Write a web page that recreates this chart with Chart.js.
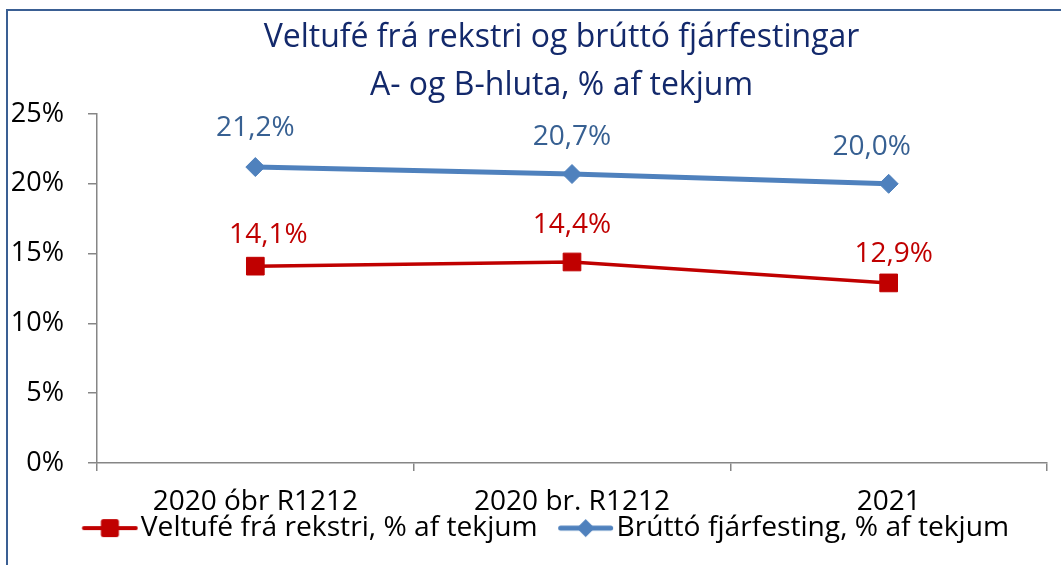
<!DOCTYPE html>
<html>
<head>
<meta charset="utf-8">
<script src="https://cdn.jsdelivr.net/npm/chart.js@4/dist/chart.umd.min.js"></script>
<style>
  html, body { margin: 0; padding: 0; background: #ffffff; overflow: hidden; }
  canvas { display: block; }
</style>
</head>
<body>
<canvas id="c" width="1061" height="565"></canvas>
<script>
// ---- data ----
const categories = ['2020 óbr R1212', '2020 br. R1212', '2021'];
const seriesNames = ['Veltufé frá rekstri, % af tekjum', 'Brúttó fjárfesting, % af tekjum'];
const veltufe = [14.1, 14.4, 12.9];
const bruttoFjarfesting = [21.2, 20.7, 20.0];
const titleLines = ['Veltufé frá rekstri og brúttó fjárfestingar', 'A- og B-hluta, % af tekjum'];
const yTicks = [0, 5, 10, 15, 20, 25];

// ---- styles ----
const FONT = '"Open Sans", "Liberation Sans", sans-serif';
const RED = '#C00000';
const BLUE = '#4F81BD';
const BLUE_TEXT = '#376092';
const AXIS = '#868686';
const LEGEND_FONT = 28.2;
const ICON_BOX = 64.75;   // legend box width reserved per item

function makeIcon(kind) {
  const w = 88, h = 24, a = 31.6, iw = 56;
  const cv = document.createElement('canvas');
  cv.width = w; cv.height = h;
  const g = cv.getContext('2d');
  const cy = h / 2;
  g.lineCap = 'round';
  if (kind === 'red') {
    g.strokeStyle = RED; g.lineWidth = 4;
    g.beginPath(); g.moveTo(a + 2, cy); g.lineTo(a + iw - 2, cy); g.stroke();
    g.fillStyle = RED;
    const s = 18, x0 = a + iw / 2 - s / 2, y0 = cy - s / 2, r = 2.5;
    g.beginPath();
    g.moveTo(x0 + r, y0); g.lineTo(x0 + s - r, y0); g.quadraticCurveTo(x0 + s, y0, x0 + s, y0 + r);
    g.lineTo(x0 + s, y0 + s - r); g.quadraticCurveTo(x0 + s, y0 + s, x0 + s - r, y0 + s);
    g.lineTo(x0 + r, y0 + s); g.quadraticCurveTo(x0, y0 + s, x0, y0 + s - r);
    g.lineTo(x0, y0 + r); g.quadraticCurveTo(x0, y0, x0 + r, y0);
    g.closePath(); g.fill();
  } else {
    g.strokeStyle = BLUE; g.lineWidth = 5;
    g.beginPath(); g.moveTo(a + 3, cy); g.lineTo(a + iw - 3, cy); g.stroke();
    g.fillStyle = BLUE;
    const d = 9, cx = a + iw / 2;
    g.beginPath(); g.moveTo(cx - d, cy); g.lineTo(cx, cy - d); g.lineTo(cx + d, cy); g.lineTo(cx, cy + d); g.closePath(); g.fill();
  }
  return cv;
}
const legendIcons = [makeIcon('red'), makeIcon('blue')];

// frame border + title/legend horizontal centring
const framePlugin = {
  id: 'frame',
  afterLayout(chart) {
    if (chart.titleBlock) { chart.titleBlock.left += 38; chart.titleBlock.right += 38; }
    if (chart.legend) { chart.legend.left += 12; chart.legend.right += 12; }
  },
  beforeDraw(chart) {
    const ctx = chart.ctx;
    ctx.save();
    ctx.fillStyle = '#ffffff';
    ctx.fillRect(0, 0, chart.width, chart.height);
    ctx.strokeStyle = '#3A5F93';
    ctx.lineWidth = 2;
    ctx.beginPath();
    ctx.moveTo(7, chart.height + 5);
    ctx.lineTo(7, 10);
    ctx.lineTo(chart.width + 5, 10);
    ctx.stroke();
    ctx.restore();
  }
};

// data labels above points
const labelPlugin = {
  id: 'pointLabels',
  afterDatasetsDraw(chart, args, opts) {
    const ctx = chart.ctx;
    ctx.save();
    ctx.font = '28px ' + FONT;
    ctx.textAlign = 'center';
    ctx.textBaseline = 'middle';
    chart.data.datasets.forEach((ds, di) => {
      const meta = chart.getDatasetMeta(di);
      ctx.fillStyle = opts.colors[di];
      meta.data.forEach((pt, i) => {
        const n = opts.nudge[di][i];
        const txt = ds.data[i].toFixed(1).replace('.', ',') + '%';
        ctx.fillText(txt, pt.x + n[0], pt.y - opts.offset + n[1]);
      });
    });
    ctx.restore();
  }
};

new Chart(document.getElementById('c'), {
  type: 'line',
  data: {
    labels: categories,
    datasets: [
      {
        label: seriesNames[0],
        data: veltufe,
        borderColor: RED,
        backgroundColor: RED,
        borderWidth: 3.5,
        pointStyle: 'rect',
        pointRadius: 12.5,
        pointBorderWidth: 1,
        pointBackgroundColor: RED,
        pointBorderColor: RED,
        tension: 0,
        fill: false
      },
      {
        label: seriesNames[1],
        data: bruttoFjarfesting,
        borderColor: BLUE,
        backgroundColor: BLUE,
        borderWidth: 5,
        pointStyle: 'rectRot',
        pointRadius: 9.5,
        pointBorderWidth: 1,
        pointBackgroundColor: BLUE,
        pointBorderColor: BLUE,
        tension: 0,
        fill: false
      }
    ]
  },
  options: {
    responsive: false,
    animation: false,
    devicePixelRatio: 1,
    events: [],
    layout: { padding: { left: 0, right: 14, top: 0, bottom: 12.8 } },
    scales: {
      x: {
        type: 'category',
        offset: true,
        grid: { display: true, offset: true, drawOnChartArea: false, drawTicks: true, tickLength: 8, color: AXIS, lineWidth: 1.5 },
        border: { display: true, color: AXIS, width: 1.5 },
        ticks: { color: '#000000', font: { family: FONT, size: 28, lineHeight: 1.2 }, padding: 14, maxRotation: 0, autoSkip: false },
        afterFit(scale) { scale.height = 51; }
      },
      y: {
        min: 0,
        max: 25,
        afterBuildTicks(scale) { scale.ticks = yTicks.map(v => ({ value: v })); },
        grid: { display: true, drawOnChartArea: false, drawTicks: true, tickLength: 9, color: AXIS, lineWidth: 1.5 },
        border: { display: true, color: AXIS, width: 1.5 },
        ticks: { color: '#000000', font: { family: FONT, size: 27 }, padding: 24, callback: v => v + '%' },
        afterFit(scale) { scale.width = 97; }
      }
    },
    plugins: {
      title: {
        display: true,
        text: titleLines,
        color: '#13296B',
        font: { family: FONT, size: 32, weight: 'normal', lineHeight: 1.5 },
        padding: { top: 14, bottom: 4 }
      },
      legend: {
        display: true,
        position: 'bottom',
        labels: {
          color: '#000000',
          font: { family: FONT, size: LEGEND_FONT },
          usePointStyle: true,
          pointStyleWidth: ICON_BOX,
          padding: 0,
          generateLabels(chart) {
            const items = Chart.defaults.plugins.legend.labels.generateLabels(chart);
            items.forEach((it, i) => { it.pointStyle = legendIcons[i]; });
            return items;
          }
        }
      },
      tooltip: { enabled: false },
      pointLabels: {
        offset: 37,
        colors: [RED, BLUE_TEXT],
        nudge: [
          [[13, 6], [0, 0], [5, 8]],
          [[0, -2], [0, 0], [-17, 0]]
        ]
      }
    }
  },
  plugins: [framePlugin, labelPlugin]
});
</script>
</body>
</html>
